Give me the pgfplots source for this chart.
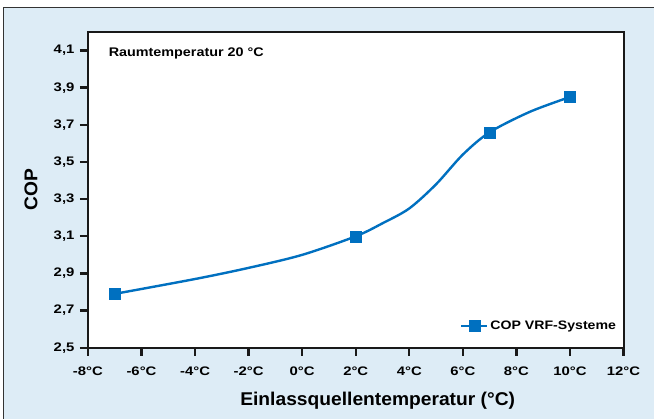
\documentclass[border=0pt]{standalone}
\usepackage{fontspec}
\setmainfont{Liberation Sans}
\newfontfamily\tickf[FakeStretch=1.2]{Liberation Sans}
\newfontfamily\capf[FakeStretch=1.15]{Liberation Sans}
\newfontfamily\labf[FakeStretch=1.04]{Liberation Sans}
\usepackage{pgfplots}
\pgfplotsset{compat=1.18}
\definecolor{bgblue}{RGB}{221,236,246}
\definecolor{copblue}{RGB}{0,112,192}
\begin{document}
\begin{tikzpicture}
\fill[white] (-88pt,-71pt) rectangle (566pt,348pt);
\fill[bgblue] (-84pt,-71pt) rectangle (566pt,340pt);
\draw[black!80, line width=1pt] (-84pt,-71pt) -- (-84pt,340pt) -- (566pt,340pt);
\begin{axis}[
  at={(0pt,0pt)}, anchor=south west,
  scale only axis, width=536pt, height=316pt,
  xmin=-8, xmax=12, ymin=2.5, ymax=4.2,
  axis background/.style={fill=white},
  axis line style={line width=2pt, black!90},
  xtick={-8,-6,-4,-2,0,2,4,6,8,10,12},
  xticklabels={-8°C,-6°C,-4°C,-2°C,0°C,2°C,4°C,6°C,8°C,10°C,12°C},
  ytick={2.5,2.7,2.9,3.1,3.3,3.5,3.7,3.9,4.1},
  yticklabels={{2,5},{2,7},{2,9},{3,1},{3,3},{3,5},{3,7},{3,9},{4,1}},
  xtick pos=bottom, ytick pos=left,
  tick align=outside, major tick length=8pt,
  tick style={line width=2.4pt, black!90},
  every tick label/.append style={font=\tickf\bfseries\fontsize{12.4}{14}\selectfont},
  yticklabel style={xshift=-2pt},
  xticklabel style={yshift=-8pt},
  xlabel={Einlassquellentemperatur (°C)},
  ylabel={COP},
  xlabel style={at={(axis description cs:0.541,0)}, anchor=base, yshift=-58pt, font=\labf\bfseries\fontsize{18.5}{22}\selectfont},
  ylabel style={at={(axis description cs:-0.1063,0.5)}, anchor=center, font=\labf\bfseries\fontsize{18.5}{22}\selectfont},
  legend style={draw=none, fill=none, at={(axis description cs:0.992,0.0696)}, anchor=east,
    font=\capf\bfseries\fontsize{12.3}{14}\selectfont, inner sep=1pt},
  legend image code/.code={\draw[mark indices={2}] plot coordinates {(0pt,0pt) (13pt,0pt) (26pt,0pt)};},
]
\addplot[copblue, line width=2.4pt, smooth, tension=0.5,
  mark=square*, mark size=5.5pt, mark indices={1,5,10,12},
  mark options={solid, line width=0.2pt, fill=copblue, draw=copblue}]
  coordinates {(-7,2.79) (-4,2.87) (-2,2.93) (0,3.00) (2,3.10) (3,3.17) (4,3.25) (5,3.38) (6,3.54) (7,3.66) (8.5,3.77) (10,3.85)};
\addlegendentry{COP VRF-Systeme}
\node[anchor=base west, inner sep=0pt, font=\capf\bfseries\fontsize{12.5}{14}\selectfont] at (axis description cs:0.0385,0.922) {Raumtemperatur 20 °C};
\end{axis}
\end{tikzpicture}
\end{document}
